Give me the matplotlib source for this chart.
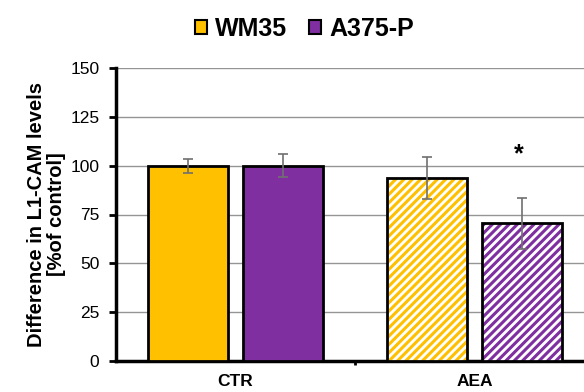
import matplotlib
matplotlib.use("Agg")
import matplotlib.pyplot as plt
from matplotlib.patches import Patch
import numpy as np

plt.rcParams['font.family'] = ['Liberation Sans', 'DejaVu Sans']
plt.rcParams['hatch.linewidth'] = 2.2

categories = ["CTR", "AEA"]
series_names = ["WM35", "A375-P"]
wm35 = [100, 93.5]
wm35_err = [3.6, 10.8]
a375 = [100, 70.5]
a375_err = [6.0, 13.0]
colors = ["#FFC000", "#7F2FA0"]
yticks = [0, 25, 50, 75, 100, 125, 150]

fig = plt.figure(figsize=(5.84, 3.92), dpi=100)
ax = fig.add_axes([116/584, 1-361/392, 1-116/584, 293/392])

x = np.arange(len(categories)) + 0.5
w = 0.335
off = 0.197
vals = [wm35, a375]
errs = [wm35_err, a375_err]
for i, (v, e, c) in enumerate(zip(vals, errs, colors)):
    pos = x + (-off if i == 0 else off)
    # CTR solid
    ax.bar(pos[0], v[0], w, color=c, edgecolor='black', linewidth=2, zorder=3)
    # AEA hatched
    ax.bar(pos[1], v[1], w, color='white', edgecolor=c, hatch='////', linewidth=0, zorder=3)
    ax.bar(pos[1], v[1], w, color='none', edgecolor='black', linewidth=2, zorder=4)
    ax.errorbar(pos, v, yerr=e, fmt='none', ecolor='#707070', elinewidth=1.2, capsize=3.5, capthick=1.2, zorder=5)

ax.text(x[1] + off - 0.01, 99.5, "*", ha='center', va='bottom', fontsize=18, fontweight='bold')

ax.set_xlim(0, 468/239)
ax.set_ylim(0, 150)
ax.set_yticks(yticks)
ax.set_yticklabels([str(t) for t in yticks], fontsize=12.5)
ax.yaxis.grid(True, color='#959595', linewidth=1)
ax.set_axisbelow(True)
ax.set_xticks(x)
ax.set_xticklabels(categories, fontsize=12.5, fontweight='bold')
ax.set_xticks([1.0], minor=True)
ax.tick_params(axis='x', which='major', length=0, pad=9)
ax.tick_params(axis='x', which='minor', direction='out', length=3, width=2)
ax.tick_params(axis='y', direction='out', length=5, width=2, pad=7)
for s in ['top', 'right']:
    ax.spines[s].set_visible(False)
ax.spines['left'].set_linewidth(2.5)
ax.spines['bottom'].set_linewidth(2.5)
ax.set_ylabel("Difference in L1-CAM levels\n[%of control]", fontsize=14.5, fontweight='bold', linespacing=1.05, labelpad=3)

handles = [Patch(facecolor=c, edgecolor='black', linewidth=1.5) for c in colors]
fig.legend(handles, series_names, loc='center', bbox_to_anchor=(304.5/584, 1 - 29/392), ncol=2, frameon=False,
           prop={'weight': 'bold', 'size': 18}, handlelength=0.48, handleheight=0.48, handletextpad=0.3, columnspacing=0.9,
           borderpad=0, borderaxespad=0)

fig.savefig("out.png", dpi=100)
